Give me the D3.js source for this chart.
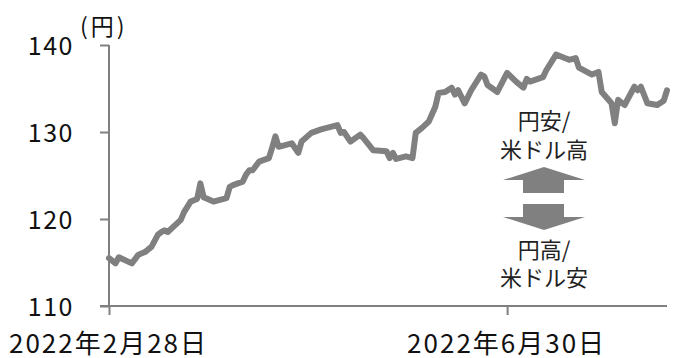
<!DOCTYPE html>
<html>
<head>
<meta charset="utf-8">
<script src="https://cdn.jsdelivr.net/npm/d3@7"></script>
<style>
    body { margin: 0; background: #fff; }
    svg, svg text { font-family: "Noto Sans CJK JP", "Noto Sans", sans-serif; }
</style>
</head>
<body>
<div id="chart"></div>
<script>
// USD/JPY closing rate
const dates = [
    "2022-02-28", "2022-03-02", "2022-03-03", "2022-03-07", "2022-03-09", "2022-03-11",
    "2022-03-13", "2022-03-15", "2022-03-16", "2022-03-17", "2022-03-18", "2022-03-22",
    "2022-03-23", "2022-03-25", "2022-03-27", "2022-03-28", "2022-03-29", "2022-04-01",
    "2022-04-05", "2022-04-06", "2022-04-07", "2022-04-10", "2022-04-11", "2022-04-12",
    "2022-04-13", "2022-04-15", "2022-04-18", "2022-04-19", "2022-04-20", "2022-04-21",
    "2022-04-25", "2022-04-27", "2022-04-28", "2022-05-01", "2022-05-04", "2022-05-09",
    "2022-05-10", "2022-05-11", "2022-05-13", "2022-05-16", "2022-05-17", "2022-05-20",
    "2022-05-24", "2022-05-25", "2022-05-26", "2022-05-27", "2022-05-30", "2022-06-01",
    "2022-06-02", "2022-06-04", "2022-06-06", "2022-06-08", "2022-06-09", "2022-06-11",
    "2022-06-13", "2022-06-14", "2022-06-15", "2022-06-17", "2022-06-19", "2022-06-22",
    "2022-06-23", "2022-06-24", "2022-06-27", "2022-06-30", "2022-07-03", "2022-07-05",
    "2022-07-06", "2022-07-07", "2022-07-11", "2022-07-12", "2022-07-15", "2022-07-19",
    "2022-07-21", "2022-07-22", "2022-07-26", "2022-07-28", "2022-07-29", "2022-08-01",
    "2022-08-02", "2022-08-03", "2022-08-05", "2022-08-08", "2022-08-09", "2022-08-10",
    "2022-08-12", "2022-08-15", "2022-08-17", "2022-08-18"
];
const yen = [
    115.5, 114.9, 115.6, 114.9, 115.9, 116.2,
    116.8, 118.2, 118.5, 118.7, 118.5, 119.9,
    120.8, 122.0, 122.3, 124.1, 122.5, 122.0,
    122.4, 123.7, 123.9, 124.3, 125.1, 125.6,
    125.6, 126.6, 127.0, 128.2, 129.5, 128.3,
    128.7, 127.6, 128.9, 129.9, 130.3, 130.8,
    129.9, 130.0, 128.9, 129.7, 129.3, 127.9,
    127.8, 127.0, 127.6, 126.9, 127.2, 127.0,
    129.9, 130.5, 131.2, 132.9, 134.5, 134.6,
    135.1, 134.3, 134.8, 133.3, 134.8, 136.6,
    136.4, 135.4, 134.6, 136.8, 135.7, 135.1,
    136.1, 135.8, 136.3, 137.1, 138.9, 138.3,
    138.5, 137.4, 136.6, 136.9, 134.6, 133.3,
    131.0, 133.7, 133.1, 135.2, 134.8, 135.2,
    133.3, 133.1, 133.6, 134.8
];
const yTicks = [110, 120, 130, 140];
const xTicks = ["2022-02-28", "2022-06-30"];
const xTickLabels = ["2022年2月28日", "2022年6月30日"];
const unitLabel = "(円)";
const upLabel = ["円安/", "米ドル高"];
const downLabel = ["円高/", "米ドル安"];

const parseDate = d3.timeParse("%Y-%m-%d");
const data = dates.map((d, i) => ({ date: parseDate(d), value: yen[i] }));

const width = 675;
const height = 358;
const margin = { top: 45, right: 8, bottom: 52, left: 109 };
const innerWidth = width - margin.left - margin.right;
const innerHeight = height - margin.top - margin.bottom;

const grey = "#808080";
const fontFamily = "'Noto Sans CJK JP', 'Noto Sans', sans-serif";

const svg = d3.select("#chart").append("svg")
    .attr("width", width)
    .attr("height", height);

const chart = svg.append("g")
    .attr("transform", `translate(${margin.left}, ${margin.top})`);

const xScale = d3.scaleTime()
    .domain(d3.extent(data, d => d.date))
    .range([0, innerWidth]);

const yScale = d3.scaleLinear()
    .domain([110, 140])
    .range([innerHeight, 0]);

// y axis
const yAxis = d3.axisLeft(yScale)
    .tickValues(yTicks)
    .tickSize(9)
    .tickPadding(26);

const yG = chart.append("g").call(yAxis)
    .attr("font-family", fontFamily);
yG.select(".domain").remove();
yG.selectAll("line").attr("stroke", grey).attr("stroke-width", 2);
yG.selectAll("text")
    .style("font-size", "25px")
    .style("letter-spacing", "1.5px")
    .style("fill", "#111")
    .attr("dy", "0.36em");

// x axis
const xAxis = d3.axisBottom(xScale)
    .tickValues(xTicks.map(parseDate))
    .tickSize(9)
    .tickFormat((d, i) => xTickLabels[i]);

const xG = chart.append("g")
    .attr("transform", `translate(0, ${innerHeight})`)
    .attr("font-family", fontFamily)
    .call(xAxis);
xG.select(".domain").remove();
xG.selectAll("line").attr("stroke", grey).attr("stroke-width", 2);
xG.selectAll("text")
    .attr("y", 47)
    .attr("dy", 0)
    .attr("dx", -1)
    .style("font-size", "26px")
    .style("letter-spacing", "2px")
    .style("fill", "#111");

// axis lines
chart.append("line")
    .attr("x1", 0).attr("x2", 0)
    .attr("y1", yScale(140)).attr("y2", innerHeight)
    .attr("stroke", grey).attr("stroke-width", 2);

chart.append("line")
    .attr("x1", -9).attr("x2", innerWidth)
    .attr("y1", innerHeight).attr("y2", innerHeight)
    .attr("stroke", grey).attr("stroke-width", 2);

// unit
svg.append("text")
    .attr("x", 80)
    .attr("y", 35)
    .style("font-size", "23px")
    .style("letter-spacing", "3px")
    .style("fill", "#111")
    .text(unitLabel);

// the rate line
const line = d3.line()
    .x(d => xScale(d.date))
    .y(d => yScale(d.value));

chart.append("path")
    .datum(data)
    .attr("d", line)
    .attr("fill", "none")
    .attr("stroke", grey)
    .attr("stroke-width", 6)
    .attr("stroke-linejoin", "round")
    .attr("stroke-linecap", "round");

// direction arrows and labels
const note = svg.append("g").attr("transform", "translate(544, 0)");

note.selectAll(".up-label")
    .data(upLabel)
    .enter().append("text")
    .attr("class", "up-label")
    .attr("x", 0)
    .attr("y", (d, i) => 129 + i * 29)
    .attr("text-anchor", "middle")
    .style("font-size", "22px")
    .style("fill", "#222")
    .text(d => d);

note.selectAll(".down-label")
    .data(downLabel)
    .enter().append("text")
    .attr("class", "down-label")
    .attr("x", 0)
    .attr("y", (d, i) => 258 + i * 28)
    .attr("text-anchor", "middle")
    .style("font-size", "22px")
    .style("fill", "#222")
    .text(d => d);

note.append("path")
    .attr("d", "M0,167 L41,180 L20,180 L20,193 L-21,193 L-21,180 L-41,180 Z")
    .attr("fill", grey);

note.append("path")
    .attr("d", "M-21,204 L20,204 L20,217 L41,217 L0,230 L-41,217 L-21,217 Z")
    .attr("fill", grey);
</script>
</body>
</html>
